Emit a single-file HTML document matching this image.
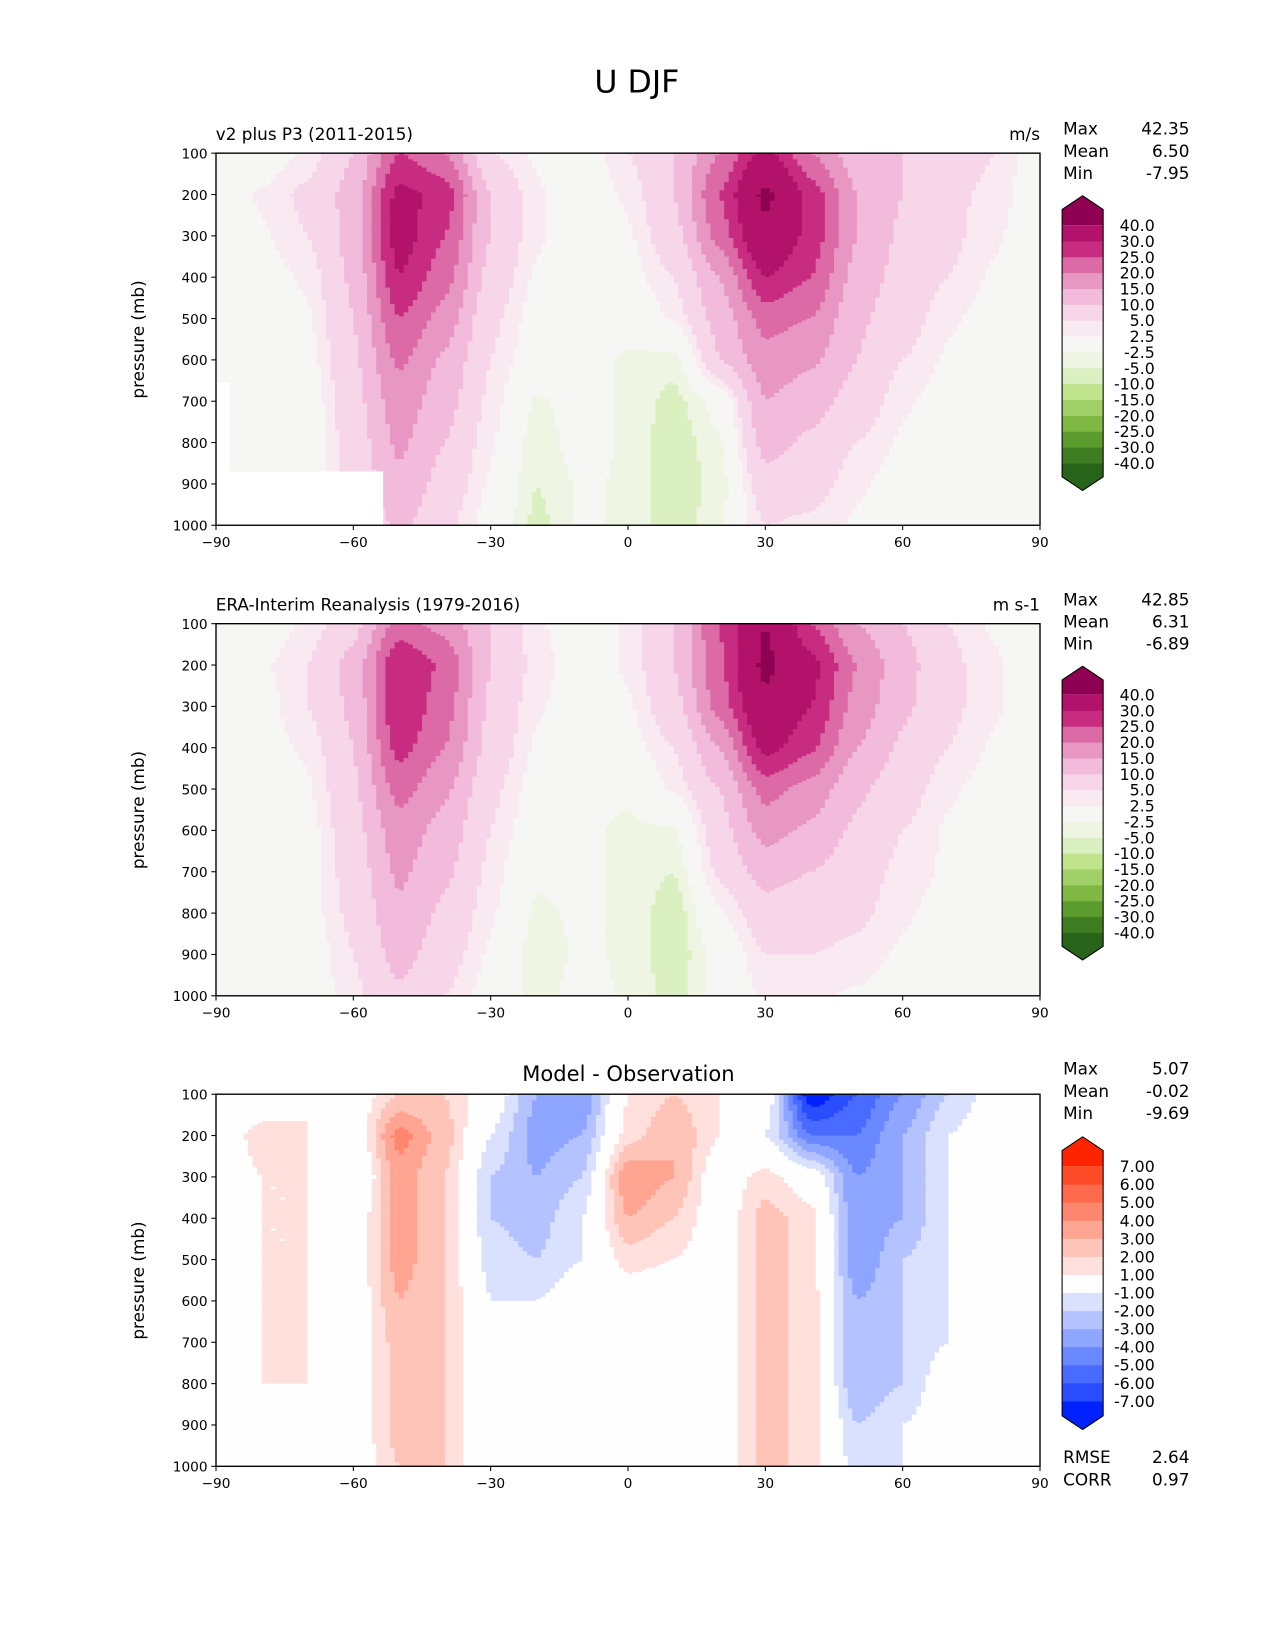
<!DOCTYPE html>
<html><head><meta charset="utf-8"><style>
html,body{margin:0;padding:0;background:#fff}
svg{display:block;font-family:"DejaVu Sans","Liberation Sans",sans-serif}
</style></head><body>
<svg id="fig" xmlns="http://www.w3.org/2000/svg" width="1275" height="1650" viewBox="0 0 1211.25 1567.5">
<rect x="0" y="0" width="1211.25" height="1567.5" fill="#fff"/>
<text x="605" y="88" font-size="30" text-anchor="middle">U DJF</text>
</svg>
<script>
// ---- data ----
const lats = [-90,-80,-70,-60,-50,-40,-30,-20,-10,0,10,20,30,40,50,60,70,80,90];
const levels = [100,200,300,400,500,600,700,800,900,1000];
const modelU = [
[0,0,3,10,25,20,5,2,0,5,10,20,32,20,12,10,8,5,0],
[0,3,6,12,32,28,10,3,0,3,10,25,42,28,15,10,6,4,0],
[0,2,5,12,33,25,10,3,0,2,8,22,38,28,15,9,6,3,0],
[0,1,3,11,30,22,8,2,0,1,5,15,30,25,13,8,5,2,0],
[0,0,2,10,25,18,6,1,-1,-1,3,12,22,20,11,7,3,1,0],
[0,0,1,9,21,14,5,0,-1,-3,-4,10,18,16,10,5,2,0,0],
[0,0,0,8,18,12,4,-3,-1,-3,-6,-1,15,12,8,3,1,0,0],
[0,0,0,7,16,10,3,-4,-1,-3,-7,-3,12,9,5,2,0,0,0],
[0,0,0,6,14,8,2,-5,-2,-3,-7,-4,8,7,3,1,0,0,0],
[0,0,0,5,11,6,1,-6,-2,-3,-7,-3,5,4,2,0,0,0,0]];
const obsU = [
[0,0,3,8,22,18,10,3,0,3,10,25,40,25,15,10,5,2,0],
[0,2,5,12,30,24,10,4,0,3,10,24,42,32,20,12,6,3,0],
[0,1,5,11,30,22,9,3,0,2,8,22,38,30,18,11,6,3,0],
[0,1,3,10,27,20,8,2,-1,1,5,15,32,26,15,9,5,2,0],
[0,0,2,9,22,16,6,1,-2,-2,3,10,22,18,11,7,3,1,0],
[0,0,1,8,18,13,5,0,-2,-3,-3,8,17,14,9,5,2,0,0],
[0,0,1,7,16,11,4,-2,-2,-3,-5,6,12,10,7,4,2,0,0],
[0,0,1,6,14,9,3,-3,-2,-3,-7,2,8,7,6,3,1,0,0],
[0,0,0,5,12,7,2,-4,-2,-3,-7,-1,5,5,4,2,0,0,0],
[0,0,0,4,9,5,1,-4,-1,-3,-6,-1,3,3,2,1,0,0,0]];
const diffU = [
[0,0,1,0,2,2,0,-3,-4,1,2,1,0,-8,-6,-4,-2,-0.5,0],
[0,1.5,1,0,4.5,2.5,-1,-3.5,-3,1.5,3,1,-1,-5,-5,-3,-1,0,0],
[0,1,1,-1,3.5,2,-2,-3,-2,4,3,0,1.5,0,-4,-3,-1,0,0],
[0,1,1,0,3.5,2,-2,-2.5,-1,3,2,0,2.5,1.5,-4,-3,-1,0,0],
[0,1,1,0,3.5,2,-1.5,-2,-1,1.5,1,0,2.5,1.5,-4,-2,-1,0,0],
[0,1,1,0,3,2,-1,-1,0,0,0,0,2.5,1.5,-3,-2,-1,0,0],
[0,1,1,0,2.5,2,-1,-1,0,0,0,0,2.5,1.5,-3,-2,-1,0,0],
[-1,1,1,0,2.5,2,-1,-1,0,-0.5,-1,0,2.5,1.5,-3,-2,0,0,0],
[0,0,0,0,2.5,2,-1,-1,0,-1,-1,0,2.5,1.5,-2,-1,0,0,0],
[0,0,0,0,2,2,-1,-1,0,-1,-1,0,2.5,1.5,-1.5,-1,0,0,0]];
const uBounds = [-40,-30,-25,-20,-15,-10,-5,-2.5,2.5,5,10,15,20,25,30,40];
const uColors = ["#276419","#3e7d22","#5c9b2e","#7fb842","#a0d068","#c0e48c","#dbf0c0","#eef5e2","#f6f6f4","#f9eaf2","#f7d6ea","#f2bbdb","#e897c3","#dc6aa6","#c82c80","#b3126b","#8e0152"];
const uLabels = ["-40.0","-30.0","-25.0","-20.0","-15.0","-10.0","-5.0","-2.5","2.5","5.0","10.0","15.0","20.0","25.0","30.0","40.0"];
const dBounds = [-7,-6,-5,-4,-3,-2,-1,1,2,3,4,5,6,7];
const dColors = ["#0022ff","#2a4dff","#4a6bff","#6a88ff","#8ea6ff","#b4c3ff","#dae1ff","#fefefe","#ffe0dc","#ffc4b8","#ffa592","#ff866e","#ff6a4d","#ff4a2a","#ff2400"];
const dLabels = ["-7.00","-6.00","-5.00","-4.00","-3.00","-2.00","-1.00","1.00","2.00","3.00","4.00","5.00","6.00","7.00"];
const xTicks = [-90,-60,-30,0,30,60,90];
const yTicks = [100,200,300,400,500,600,700,800,900,1000];
const stats1 = ["42.35","6.50","-7.95"];
const stats2 = ["42.85","6.31","-6.89"];
const stats3 = ["5.07","-0.02","-9.69"];
const errStats = ["2.64","0.97"];

// ---- drawing ----
const NS="http://www.w3.org/2000/svg";
const svg=document.getElementById('fig');
function mk(tag,attrs,parent){const e=document.createElementNS(NS,tag);for(const k in attrs)e.setAttribute(k,attrs[k]);(parent||svg).appendChild(e);return e;}
const X0=205.2,X1=988;
function xs(lat){return X0+(lat+90)/180*(X1-X0);}
function mkY(top){const bot=top+353.5;return p=>top+(p-100)/900*(bot-top);}
function sm(t){return t*t*(3-2*t)*0.5+t*0.5;}
function sample(grid,lat,p){
  let fi=(lat+90)/10, fj=(p-100)/100;
  let i=Math.min(Math.floor(fi),17), j=Math.min(Math.floor(fj),8);
  let a=sm(fi-i),b=fj-j;
  return grid[j][i]*(1-a)*(1-b)+grid[j][i+1]*a*(1-b)+grid[j+1][i]*(1-a)*b+grid[j+1][i+1]*a*b;
}
function colorIdx(v,bounds){let k=0;while(k<bounds.length&&v>=bounds[k])k++;return k;}
function drawField(grid,top,bounds,colors,name){
  const ys=mkY(top);
  const g=mk('g',{});
  
  
  const dl=1, dp=5;
  for(let p=100;p<1000;p+=dp){
    let runStart=-90, runC=null;
    for(let lat=-90;lat<=90;lat+=dl){
      let c=lat<90?colorIdx(sample(grid,lat+dl/2,p+dp/2),bounds):-1;
      if(runC===null){runC=c;runStart=lat;continue;}
      if(c!==runC){
        const r=mk('rect',{x:xs(runStart),y:ys(p),width:xs(lat)-xs(runStart)+0.4,height:ys(p+dp)-ys(p)+0.4,fill:colors[runC]},g);
        
        
        runC=c;runStart=lat;
      }
    }
  }
}
function drawAxes(top,name){
  const ys=mkY(top);
  const g=mk('g',{});
  
  
  mk('rect',{x:X0,y:top,width:X1-X0,height:353.5,fill:'none',stroke:'#000','stroke-width':1.3},g);
  xTicks.forEach(t=>{
    mk('line',{x1:xs(t),x2:xs(t),y1:top+353.5,y2:top+358,stroke:'#000'},g);
    const tx=mk('text',{x:xs(t),y:top+374,'font-size':13,'text-anchor':'middle'},g);
    tx.textContent=(t<0?'\u2212':'')+Math.abs(t);
    
    
  });
  yTicks.forEach(t=>{
    mk('line',{x1:X0-4.5,x2:X0,y1:ys(t),y2:ys(t),stroke:'#000'},g);
    const tx=mk('text',{x:X0-8,y:ys(t)+5,'font-size':13,'text-anchor':'end'},g);
    tx.textContent=t;
    
    
  });
  const yt=mk('text',{x:0,y:0,'font-size':16,'text-anchor':'middle',transform:`translate(137,${top+177}) rotate(-90)`},g);
  yt.textContent='pressure (mb)';
  
  
}
function text(x,y,s,size,anchor,name){
  const t=mk('text',{x:x,y:y,'font-size':size,'text-anchor':anchor||'start'});
  t.textContent=s;
  
  
  return t;
}
function drawStats(y,vals,name){
  const labs=['Max','Mean','Min'];
  vals.forEach((v,i)=>{text(1010,y+i*21,labs[i],16,'start',name+'-label');text(1130,y+i*21,v,16,'end',name+'-value');});
}
function drawCbar(tip,rTop,rBot,bot,colors,labels,name){
  const g=mk('g',{});
  
  
  const L=1009,R=1048,M=(L+R)/2,n=colors.length-2,h=(rBot-rTop)/n;
  mk('polygon',{points:`${L},${rTop} ${L},${tip+13} ${M},${tip} ${R},${tip+13} ${R},${rTop}`,fill:colors[colors.length-1]},g);
  mk('polygon',{points:`${L},${rBot} ${L},${bot-13} ${M},${bot} ${R},${bot-13} ${R},${rBot}`,fill:colors[0]},g);
  for(let k=1;k<=n;k++){
    const r=mk('rect',{x:L,y:rBot-k*h,width:R-L,height:h+0.3,fill:colors[k]},g);
    
    
  }
  mk('polygon',{points:`${L},${tip+13} ${M},${tip} ${R},${tip+13} ${R},${bot-13} ${M},${bot} ${L},${bot-13}`,fill:'none',stroke:'#000','stroke-width':1},g);
  labels.forEach((s,k)=>{
    const t=mk('text',{x:1097,y:rBot-k*h+5.5,'font-size':15,'text-anchor':'end'},g);
    t.textContent=s;
    
    
  });
}
const T1=145.5,T2=592.5,T3=1039.5;
drawField(modelU,T1,uBounds,uColors,'model-contours');
const mask=mk('path',{d:`M${X0},${mkY(T1)(655)} H218 V${mkY(T1)(870)} H364 V${mkY(T1)(1000)} H${X0} Z`,fill:'#fff'});


drawAxes(T1,'model-axes');
text(205,133,'v2 plus P3 (2011-2015)',16,'start','model-panel-title');
text(988,133,'m/s',16,'end','model-units');
drawStats(128,stats1,'model-stats');
drawCbar(186,214,440,466,uColors,uLabels,'model-colorbar');
drawField(obsU,T2,uBounds,uColors,'obs-contours');
drawAxes(T2,'obs-axes');
text(205,580,'ERA-Interim Reanalysis (1979-2016)',16,'start','obs-panel-title');
text(988,580,'m s-1',16,'end','obs-units');
drawStats(575,stats2,'obs-stats');
drawCbar(633,660,886,912,uColors,uLabels,'obs-colorbar');
drawField(diffU,T3,dBounds,dColors,'diff-contours');
drawAxes(T3,'diff-axes');
text(597,1027,'Model - Observation',20,'middle','diff-panel-title');
drawStats(1021,stats3,'diff-stats');
drawCbar(1080,1108,1331,1358,dColors,dLabels,'diff-colorbar');
text(1010,1390,'RMSE',16,'start','rmse-label');text(1130,1390,errStats[0],16,'end','rmse-value');
text(1010,1411,'CORR',16,'start','corr-label');text(1130,1411,errStats[1],16,'end','corr-value');
</script>
</body></html>
